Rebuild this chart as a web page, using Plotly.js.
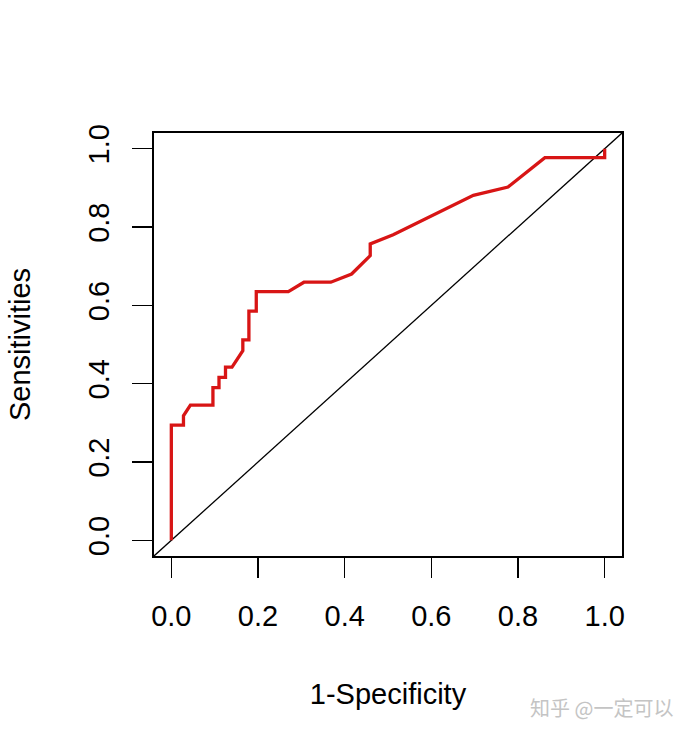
<!DOCTYPE html>
<html>
<head>
<meta charset="utf-8">
<script src="https://cdn.plot.ly/plotly-3.0.1.min.js"></script>
<style>html,body{margin:0;padding:0;background:#fff;}#chart{width:693px;height:735px;}</style>
</head>
<body>
<div id="chart"></div>
<script>
// ROC curve points (1-Specificity, Sensitivity)
const fpr = [0, 0, 0.028, 0.028, 0.044, 0.096, 0.096, 0.11, 0.11, 0.125, 0.125, 0.14, 0.165, 0.165, 0.179, 0.179, 0.196, 0.196, 0.270, 0.306, 0.368, 0.416, 0.459, 0.459, 0.512, 0.620, 0.697, 0.777, 0.862, 1.0, 1.0];
const tpr = [0, 0.294, 0.294, 0.318, 0.345, 0.345, 0.39, 0.39, 0.416, 0.416, 0.442, 0.442, 0.484, 0.512, 0.512, 0.585, 0.585, 0.635, 0.635, 0.659, 0.659, 0.680, 0.727, 0.757, 0.78, 0.838, 0.881, 0.902, 0.977, 0.977, 1.0];
// reference diagonal (chance line) spanning the plot region
const diagX = [-0.04, 1.04];
const diagY = [-0.04, 1.04];
const tickVals = [0, 0.2, 0.4, 0.6, 0.8, 1.0];
const tickText = ["0.0", "0.2", "0.4", "0.6", "0.8", "1.0"];
const xTitle = "1-Specificity";
const yTitle = "Sensitivities";
const watermark = "知乎 @一定可以";

const font = "Liberation Sans, Arial, sans-serif";

const traces = [
  {x: diagX, y: diagY, mode: "lines", line: {color: "#000", width: 1.3}, hoverinfo: "skip", showlegend: false},
  {x: fpr, y: tpr, mode: "lines", line: {color: "#d81515", width: 3.3}, showlegend: false}
];

const axisCommon = {
  range: [-0.04, 1.04],
  tickvals: tickVals,
  ticktext: tickText,
  ticks: "outside",
  ticklen: 20,
  tickwidth: 1.5,
  tickcolor: "#000",
  showline: true,
  linecolor: "#000",
  linewidth: 1.6,
  mirror: true,
  showgrid: false,
  zeroline: false,
  tickfont: {family: font, size: 29, color: "#000"}
};

const layout = {
  width: 693, height: 735,
  margin: {l: 154, r: 71, t: 133, b: 179},
  paper_bgcolor: "#fff",
  plot_bgcolor: "#fff",
  xaxis: Object.assign({}, axisCommon, {
    ticklabelstandoff: 14,
    title: {text: xTitle, font: {family: font, size: 29, color: "#000"}, standoff: 52}
  }),
  yaxis: Object.assign({}, axisCommon, {
    tickangle: -90,
    ticklabelstandoff: 12,
    title: {text: yTitle, font: {family: font, size: 29, color: "#000"}, standoff: 43}
  }),
  annotations: [{
    text: watermark, xref: "paper", yref: "paper",
    showarrow: false, xanchor: "center", yanchor: "middle",
    font: {family: "Noto Sans CJK SC", size: 20, color: "#c4c4c4"}
  }]
};
// place watermark (pixel position converted to paper coords)
const pw = 693 - 154 - 71, ph = 735 - 133 - 179;
layout.annotations[0].x = (601 - 154) / pw;
layout.annotations[0].y = (735 - 179 - 707) / ph;

Plotly.newPlot("chart", traces, layout, {displayModeBar: false, staticPlot: true});
</script>
</body>
</html>
